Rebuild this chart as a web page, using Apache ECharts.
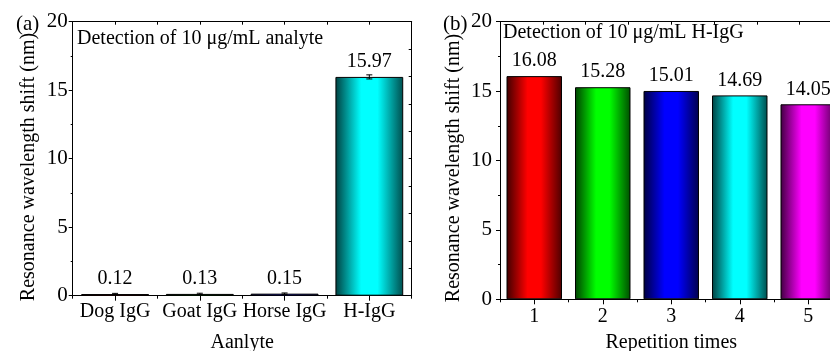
<!DOCTYPE html>
<html>
<head>
<meta charset="utf-8">
<script src="https://cdn.jsdelivr.net/npm/echarts@6/dist/echarts.min.js"></script>
<style>
  html, body { margin: 0; padding: 0; background: #fff; }
  #chart { width: 830px; height: 351px; }
</style>
</head>
<body>
<div id="chart"></div>
<script>
// panel (a)
const analytes = ["Dog IgG", "Goat IgG", "Horse IgG", "H-IgG"];
const analyteShift = [0.12, 0.13, 0.15, 15.97];
const analyteError = [0.05, 0.05, 0.05, 0.15];
const analyteColors = ["#ff0000", "#00e000", "#0000ff", "#00ffff"];

// panel (b)
const repetitions = ["1", "2", "3", "4", "5"];
const repetitionShift = [16.08, 15.28, 15.01, 14.69, 14.05];
const repetitionColors = ["#ff0000", "#00ff00", "#0000ff", "#00ffff", "#ff00ff"];

const yTicks = [0, 5, 10, 15, 20];

const FONT = "Liberation Serif, Times New Roman, serif";

function shade(hex, f) {
  const n = parseInt(hex.slice(1), 16);
  const r = Math.round(((n >> 16) & 255) * f);
  const g = Math.round(((n >> 8) & 255) * f);
  const b = Math.round((n & 255) * f);
  return `rgb(${r},${g},${b})`;
}

// origin-style cylinder shading, dark edges bright middle
function barFill(hex) {
  return new echarts.graphic.LinearGradient(0, 0, 1, 0, [
    { offset: 0, color: shade(hex, 0.25) },
    { offset: 0.38, color: hex },
    { offset: 0.62, color: hex },
    { offset: 1, color: shade(hex, 0.3) },
  ]);
}

const chartDom = document.getElementById("chart");
const myChart = echarts.init(chartDom, null, { renderer: "canvas" });

const axisLine = { show: true, lineStyle: { color: "#000", width: 1 } };

function bottomAxis(idx, data, nameText, nameGap, margin) {
  return [
    {
      type: "category",
      gridIndex: idx,
      data: data,
      position: "bottom",
      axisLine: axisLine,
      axisTick: { show: true, alignWithLabel: true, inside: false, length: 5, lineStyle: { color: "#000" } },
      axisLabel: { color: "#000", fontFamily: FONT, fontSize: 20, margin: margin, interval: 0, hideOverlap: false },
      name: nameText,
      nameLocation: "middle",
      nameGap: nameGap,
      nameTextStyle: { color: "#000", fontFamily: FONT, fontSize: 20 },
    },
    {
      // short ticks at category boundaries
      type: "category",
      gridIndex: idx,
      data: data,
      position: "bottom",
      axisLine: { show: false },
      axisTick: { show: true, alignWithLabel: false, interval: 0, length: 3, lineStyle: { color: "#000" } },
      axisLabel: { show: false },
    },
    {
      type: "value",
      gridIndex: idx,
      position: "top",
      min: 0,
      max: 8,
      interval: 1,
      axisLine: axisLine,
      axisTick: { show: true, inside: true, length: 3, lineStyle: { color: "#000" } },
      axisLabel: { show: false },
      splitLine: { show: false },
    },
  ];
}

function sideAxes(idx, labelMargin) {
  return [
    {
      type: "value",
      gridIndex: idx,
      position: "left",
      min: 0,
      max: 20,
      interval: 5,
      axisLine: axisLine,
      axisTick: { show: true, inside: false, length: 4, lineStyle: { color: "#000" } },
      minorTick: { show: true, splitNumber: 2, length: 2, lineStyle: { color: "#000" } },
      axisLabel: {
        color: "#000",
        fontFamily: FONT,
        fontSize: 21,
        margin: labelMargin,
        formatter: (v) => (yTicks.includes(v) ? String(v) : ""),
      },
      splitLine: { show: false },
    },
    {
      type: "value",
      gridIndex: idx,
      position: "right",
      min: 0,
      max: 20,
      interval: 2,
      axisLine: axisLine,
      axisTick: { show: true, inside: true, length: 3, lineStyle: { color: "#000" } },
      axisLabel: { show: false },
      splitLine: { show: false },
    },
  ];
}

const valueLabel = {
  show: true,
  position: "top",
  distance: 5,
  color: "#000",
  fontFamily: FONT,
  fontSize: 20,
  formatter: (p) => p.value.toFixed(2),
};

const yName = "Resonance wavelength shift (nm)";

function sideText(text, x, y, rotate) {
  return {
    type: "text",
    x: x,
    y: y,
    rotation: rotate ? Math.PI / 2 : 0,
    style: {
      text: text,
      fill: "#000",
      font: `${rotate ? 20 : 21}px ${FONT}`,
      align: rotate ? "center" : "left",
      verticalAlign: "middle",
    },
  };
}

const option = {
  animation: false,
  backgroundColor: "#fff",
  grid: [
    { left: 72.7, top: 21.7, width: 339, height: 274, outerBoundsMode: "none" },
    { left: 500, top: 21.7, width: 342.5, height: 277.6, outerBoundsMode: "none" },
  ],
  title: [
    {
      text: "Detection of 10 μg/mL analyte",
      left: 77,
      top: 29,
      padding: 0,
      textStyle: { color: "#000", fontFamily: FONT, fontSize: 20, fontWeight: "normal" },
    },
    {
      text: "Detection of 10 μg/mL H-IgG",
      left: 503,
      top: 23,
      padding: 0,
      textStyle: { color: "#000", fontFamily: FONT, fontSize: 20, fontWeight: "normal" },
    },
  ],
  graphic: [
    sideText("(a)", 16, 24, false),
    sideText("(b)", 443, 24, false),
    sideText(yName, 29, 167, true),
    sideText(yName, 454, 168, true),
  ],
  xAxis: [...bottomAxis(0, analytes, "Aanlyte", 37, 6), ...bottomAxis(1, repetitions, "Repetition times", 33, 7)],
  yAxis: [...sideAxes(0, 5), ...sideAxes(1, 8)],
  series: [
    {
      type: "bar",
      xAxisIndex: 0,
      yAxisIndex: 0,
      barWidth: "80%",
      data: analyteShift.map((v, i) => ({
        value: v,
        itemStyle: { color: barFill(analyteColors[i]), borderColor: "#000", borderWidth: 1 },
      })),
      label: valueLabel,
      z: 2,
    },
    {
      type: "custom",
      xAxisIndex: 0,
      yAxisIndex: 0,
      data: analyteShift.map((v, i) => [i, v - analyteError[i], v + analyteError[i]]),
      renderItem: (params, api) => {
        const lo = api.coord([api.value(0), api.value(1)]);
        const hi = api.coord([api.value(0), api.value(2)]);
        const cap = 3;
        const st = { stroke: "#000", lineWidth: 1 };
        return {
          type: "group",
          children: [
            { type: "line", shape: { x1: hi[0], y1: hi[1], x2: lo[0], y2: lo[1] }, style: st },
            { type: "line", shape: { x1: hi[0] - cap, y1: hi[1], x2: hi[0] + cap, y2: hi[1] }, style: st },
            { type: "line", shape: { x1: lo[0] - cap, y1: lo[1], x2: lo[0] + cap, y2: lo[1] }, style: st },
          ],
        };
      },
      z: 3,
    },
    {
      type: "bar",
      xAxisIndex: 3,
      yAxisIndex: 2,
      barWidth: "81%",
      data: repetitionShift.map((v, i) => ({
        value: v,
        itemStyle: { color: barFill(repetitionColors[i]), borderColor: "#000", borderWidth: 1 },
      })),
      label: valueLabel,
      z: 2,
    },
  ],
};

myChart.setOption(option);
</script>
</body>
</html>
